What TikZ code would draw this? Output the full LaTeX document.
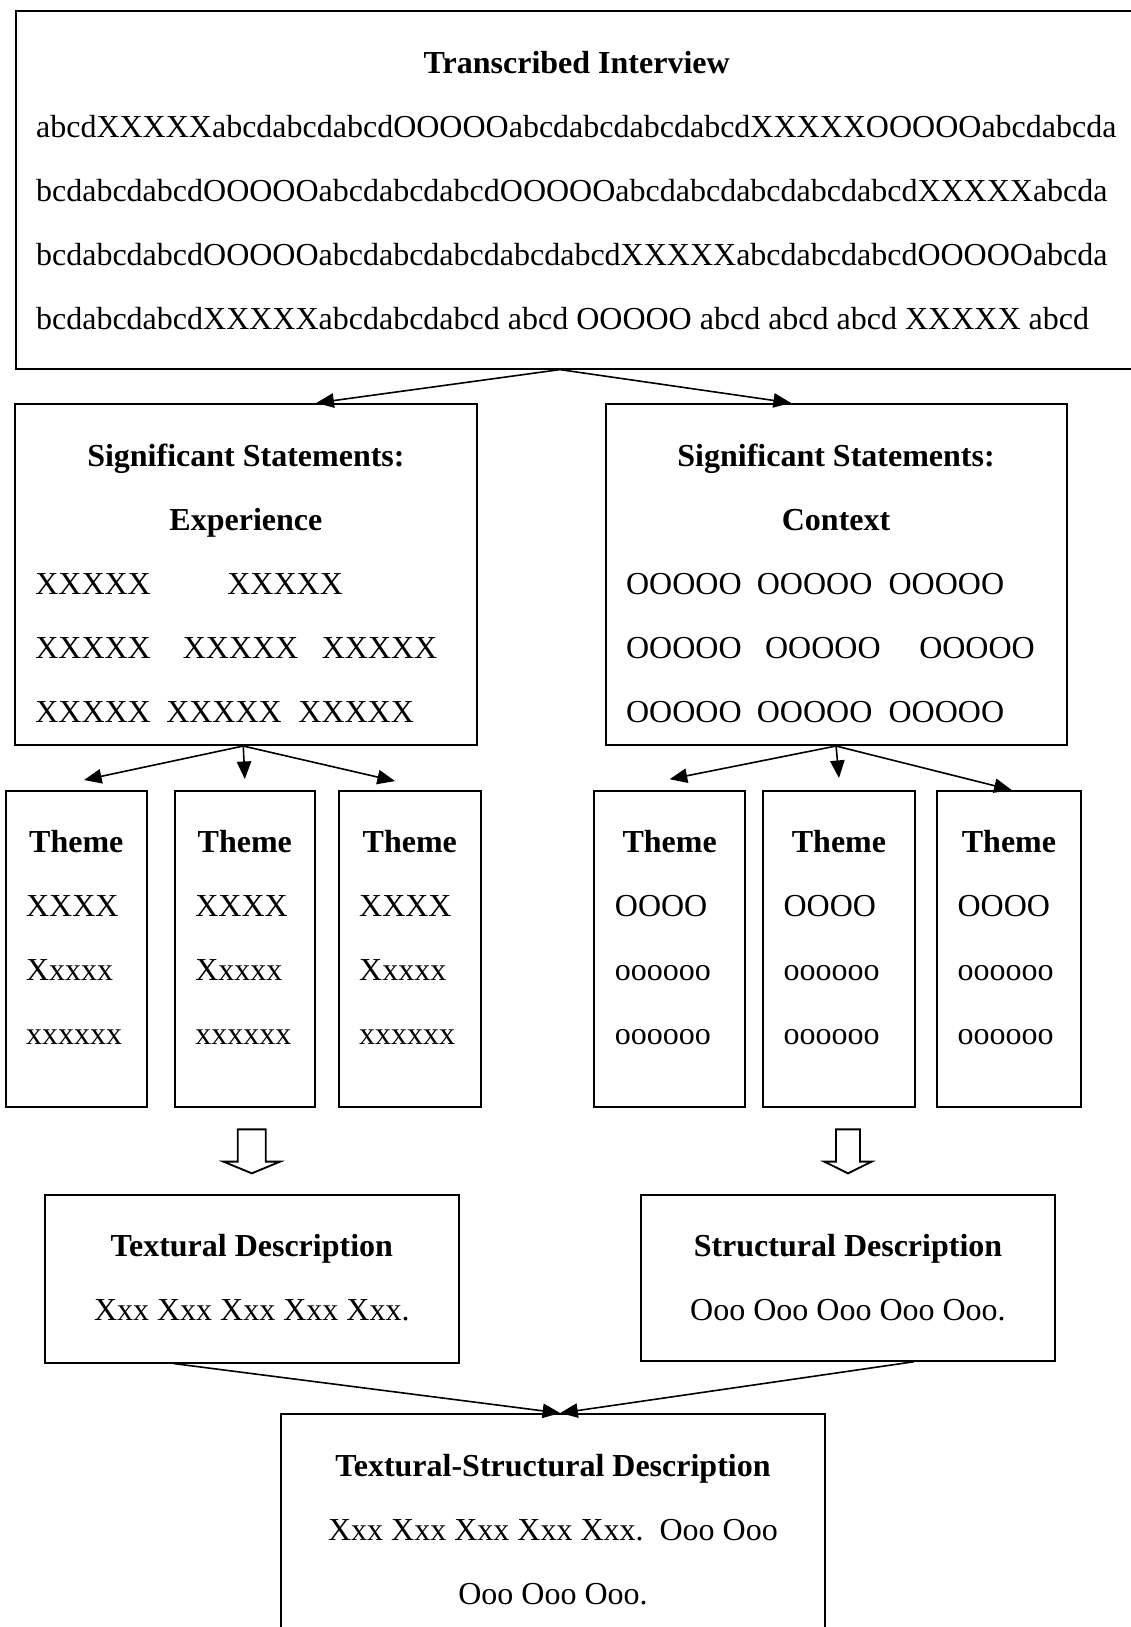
\documentclass[tikz,border=0pt]{standalone}
\usepackage{fontspec}
\setmainfont{Liberation Serif}
\usepackage{tikz}
\usetikzlibrary{arrows.meta,positioning}

\begin{document}
\fontsize{12}{24}\selectfont
\begin{tikzpicture}[x=1pt, y=1pt,
      box/.style={draw, line width=0.75pt, inner sep=0pt, anchor=north west},
      theme/.style={box, minimum height=118.4pt},
      head/.style={anchor=base, inner sep=0pt, font=\bfseries, align=center},
      body/.style={anchor=base west, inner sep=0pt, align=left},
      mid/.style={anchor=base, inner sep=0pt, align=center},
      arr/.style={-{Triangle[length=6.6pt, width=5.4pt]}, line width=0.6pt},
      hollow/.style={draw, line width=0.7pt, fill=white}
  ]
    \useasboundingbox (0,0) rectangle (424.125,-610.125);
    % transcribed interview (multi-line nodes sit on their last baseline)
    \node[box, minimum width=420.9pt, minimum height=134.1pt] (ti) at (5.44,-3.75) {};
    \node[head] (ti-h) at ([yshift=-23.8pt]ti.north) {Transcribed Interview};
    \node[body] (ti-b) at ([xshift=7.9pt, yshift=-119.8pt]ti.north west)
      {abcdXXXXXabcdabcdabcdOOOOOabcdabcdabcdabcdXXXXXOOOOOabcdabcda\\
       bcdabcdabcdOOOOOabcdabcdabcdOOOOOabcdabcdabcdabcdabcdXXXXXabcda\\
       bcdabcdabcdOOOOOabcdabcdabcdabcdabcdXXXXXabcdabcdabcdOOOOOabcda\\
       bcdabcdabcdXXXXXabcdabcdabcd abcd OOOOO abcd abcd abcd XXXXX abcd};

    % significant statements
    \node[box, minimum width=173.4pt, minimum height=127.9pt] (sse) at (5.14,-151.1) {};
    \node[head] (sse-h) at ([yshift=-47.7pt]sse.north) {Significant Statements:\\Experience};
    \node[body] (sse-b) at ([xshift=7.9pt, yshift=-119.7pt]sse.north west)
      {XXXXX\hspace{28.7pt}XXXXX\\
       XXXXX\hspace{12pt}XXXXX\hspace{8.8pt}XXXXX\\
       XXXXX\hspace{5.8pt}XXXXX\hspace{6.2pt}XXXXX};
    \node[box, minimum width=172.9pt, minimum height=127.9pt] (ssc) at (226.7,-151.1) {};
    \node[head] (ssc-h) at ([yshift=-47.7pt]ssc.north) {Significant Statements:\\Context};
    \node[body] (ssc-b) at ([xshift=7.9pt, yshift=-119.7pt]ssc.north west)
      {OOOOO\hspace{5.7pt}OOOOO\hspace{6.1pt}OOOOO\\
       OOOOO\hspace{8.8pt}OOOOO\hspace{14.5pt}OOOOO\\
       OOOOO\hspace{5.7pt}OOOOO\hspace{6.1pt}OOOOO};

    % themes
    \node[theme, minimum width=53.1pt] (te1) at (1.69,-296.25) {};
    \node[theme, minimum width=52.6pt, right=9.6pt of te1] (te2) {};
    \node[theme, minimum width=53.4pt, right=8.1pt of te2] (te3) {};
    \node[theme, minimum width=56.5pt] (tc1) at (222.5,-296.25) {};
    \node[theme, minimum width=57pt, right=6pt of tc1] (tc2) {};
    \node[theme, minimum width=54pt, right=7.5pt of tc2] (tc3) {};
    \foreach \tn/\la/\lb/\lc in {te1/XXXX/Xxxxx/xxxxxx, te2/XXXX/Xxxxx/xxxxxx,
        te3/XXXX/Xxxxx/xxxxxx, tc1/OOOO/oooooo/oooooo,
        tc2/OOOO/oooooo/oooooo, tc3/OOOO/oooooo/oooooo}{
      \node[head] (\tn-h) at ([yshift=-23.5pt]\tn.north) {Theme};
      \node[body] (\tn-b) at ([xshift=7.9pt, yshift=-95.5pt]\tn.north west) {\la\\\lb\\\lc};
    }

    % descriptions
    \node[box, minimum width=155.1pt, minimum height=63pt] (txd) at (16.5,-447.6) {};
    \node[head] (txd-h) at ([yshift=-23.6pt]txd.north) {Textural Description};
    \node[mid] (txd-b) at ([yshift=-47.6pt]txd.north) {Xxx Xxx Xxx Xxx Xxx.};
    \node[box, minimum width=155.25pt, minimum height=62.3pt] (std) at (240,-447.6) {};
    \node[head] (std-h) at ([yshift=-23.6pt]std.north) {Structural Description};
    \node[mid] (std-b) at ([yshift=-47.6pt]std.north) {Ooo Ooo Ooo Ooo Ooo.};
    \node[box, minimum width=204pt, minimum height=90pt] (tsd) at (105,-529.9) {};
    \node[head] (tsd-h) at ([yshift=-23.8pt]tsd.north) {Textural-Structural Description};
    \node[mid] (tsd-b) at ([yshift=-71.8pt]tsd.north) {Xxx Xxx Xxx Xxx Xxx.\ \ Ooo Ooo\\Ooo Ooo Ooo.};

    % connectors
    \coordinate (tdown) at ([yshift=7.6pt]txd.north);
    \coordinate (sdown) at ([yshift=7.6pt]std.north);
    \coordinate (tsd-in) at ([xshift=2.7pt]tsd.north);
    \draw[arr] ([xshift=-6.3pt]ti.south) -- ([xshift=26.4pt]sse.north);
    \draw[arr] ([xshift=-6.3pt]ti.south) -- ([xshift=-16.9pt]ssc.north);
    \draw[arr] ([xshift=-1pt]sse.south) -- ([xshift=2.9pt, yshift=3.75pt]te1.north);
    \draw[arr] ([xshift=-1pt]sse.south) -- ([yshift=4.1pt]te2.north);
    \draw[arr] ([xshift=-1pt]sse.south) -- ([xshift=-5.55pt, yshift=3.35pt]te3.north);
    \draw[arr] (ssc.south) -- ([yshift=4.05pt]tc1.north);
    \draw[arr] (ssc.south) -- ([yshift=4.5pt]tc2.north);
    \draw[arr] (ssc.south) -- ([xshift=1pt]tc3.north);
    \draw[hollow] (tdown) ++(-5.25,16.5) -- ++(0,-12.1) -- ++(-5.4,0) -- ++(10.65,-4.4)
      -- ++(10.65,4.4) -- ++(-5.4,0) -- ++(0,12.1) -- cycle;
    \draw[hollow] (sdown) ++(-4.5,16.5) -- ++(0,-12.1) -- ++(-4.4,0) -- ++(8.9,-4.4)
      -- ++(8.9,4.4) -- ++(-4.4,0) -- ++(0,12.1) -- cycle;
    \draw[arr] ([xshift=-29.15pt]txd.south) -- (tsd-in);
    \draw[arr] ([xshift=24.7pt]std.south) -- (tsd-in);
  \end{tikzpicture}
\end{document}
